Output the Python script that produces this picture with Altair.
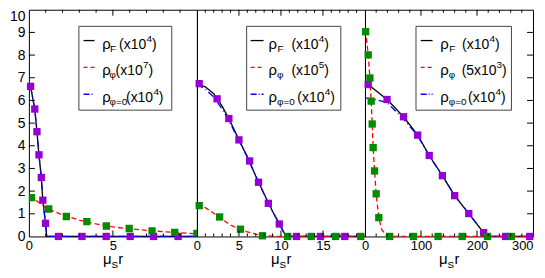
import altair as alt
import pandas as pd

# ---------------- data ----------------
# Panel 1 : mu_S r in [0, 10]
p1_rhoF_x = [0.1, 0.35, 0.48, 0.6, 0.74, 0.83, 0.99, 1.06, 10.0]
p1_rhoF_y = [6.62, 5.62, 4.62, 3.6, 2.6, 1.6, 0.58, 0.0, 0.0]
p1_rho0_x = [0.1, 0.35, 0.48, 0.6, 0.74, 0.83, 0.99, 1.06, 10.0]
p1_rho0_y = [6.62, 5.62, 4.62, 3.6, 2.6, 1.6, 0.58, 0.0, 0.0]
p1_rhophi_x = [0.0, 0.5, 1.0, 1.5, 2.0, 3.0, 4.0, 5.0, 6.0, 7.0, 8.0, 9.0, 10.0]
p1_rhophi_y = [1.75, 1.55, 1.28, 1.1, 0.95, 0.72, 0.55, 0.42, 0.34, 0.27, 0.21, 0.16, 0.12]
p1_sqF_x = [0.1, 0.35, 0.48, 0.6, 0.74, 0.83, 0.99, 1.76, 3.16, 4.6, 6.03, 7.42, 8.88]
p1_sqF_y = [6.62, 5.62, 4.62, 3.6, 2.6, 1.6, 0.58, 0, 0, 0, 0, 0, 0]
p1_sqphi_x = [0.16, 1.18, 2.23, 3.45, 4.61, 5.97, 7.33, 8.68, 10.0]
p1_sqphi_y = [1.71, 1.21, 0.88, 0.65, 0.46, 0.35, 0.25, 0.18, 0.13]

# Panel 2 : mu_S r in [0, 20]
p2_rhoF_x = [0, 1, 2, 3, 4, 5, 6, 7, 8, 9, 10, 10.6, 20]
p2_rhoF_y = [6.72, 6.6, 6.3, 5.75, 5.05, 4.26, 3.52, 2.67, 1.87, 1.11, 0.42, 0, 0]
p2_rho0_x = [0, 1, 2, 3, 4, 5, 6, 7, 8, 9, 10, 10.6, 20]
p2_rho0_y = [6.72, 6.5, 6.15, 5.62, 4.97, 4.22, 3.5, 2.66, 1.86, 1.1, 0.42, 0, 0]
p2_rhophi_x = [0, 1, 2, 3, 4, 5, 6, 7, 8, 9, 10, 20]
p2_rhophi_y = [1.4, 1.27, 1.02, 0.75, 0.5, 0.33, 0.2, 0.1, 0.04, 0.01, 0, 0]
p2_sqF_x = [0.27, 2.4, 3.8, 5.0, 6.27, 7.33, 8.5, 9.8, 11.85, 14.7, 17.6]
p2_sqF_y = [6.74, 6.07, 5.2, 4.26, 3.33, 2.39, 1.46, 0.55, 0, 0, 0]
p2_sqphi_x = [0.27, 2.7, 5.18, 7.8, 10.8, 13.6, 16.5, 19.5]
p2_sqphi_y = [1.36, 0.86, 0.32, 0.03, 0, 0, 0, 0]

# Panel 3 : mu_S r in [0, 300]
p3_rhoF_x = [5.8, 39.4, 68.8, 94.1, 114.7, 138.2, 160.1, 185.3, 211.8, 217, 300]
p3_rhoF_y = [6.7, 6.04, 5.28, 4.47, 3.57, 2.68, 1.8, 1.01, 0.17, 0, 0]
p3_rho0_x = [0, 20, 39.4, 68.8, 94.1, 114.7, 138.2, 160.1, 185.3, 211.8, 217, 300]
p3_rho0_y = [6.11, 6.03, 5.9, 5.18, 4.44, 3.56, 2.67, 1.8, 1.01, 0.17, 0, 0]
p3_rhophi_x = [0, 1.2, 5.8, 8.8, 11.1, 12.9, 14.6, 17.1, 20, 24.7, 30, 38, 50, 300]
p3_rhophi_y = [9.1, 9.03, 8.01, 6.99, 5.97, 4.96, 3.92, 2.89, 1.88, 0.83, 0.3, 0.05, 0, 0]
p3_sqF_x = [5.8, 39.4, 68.8, 94.1, 114.7, 138.2, 160.1, 185.3, 211.8, 251.1, 294.2]
p3_sqF_y = [6.7, 6.04, 5.28, 4.47, 3.57, 2.68, 1.8, 1.01, 0.17, 0, 0]
p3_sqphi_x = [1.2, 5.8, 8.8, 11.1, 12.9, 14.6, 17.1, 20, 24.7, 44.1, 86.5, 130.6, 173.5, 218.8, 261.2]
p3_sqphi_y = [9.03, 8.01, 6.99, 5.97, 4.96, 3.92, 2.89, 1.88, 0.83, 0, 0, 0, 0, 0, 0]

# axis ranges and ticks
x_max = [10, 20, 300]
x_labels = [[0, 5], [0, 5, 10, 15], [0, 100, 200, 300]]
x_major = [[5], [5, 10, 15], [100, 200]]
x_minor = [[1, 2, 3, 4, 6, 7, 8, 9],
           [1, 2, 3, 4, 6, 7, 8, 9, 11, 12, 13, 14, 16, 17, 18, 19],
           [20, 40, 60, 80, 120, 140, 160, 180, 220, 240, 260, 280]]
y_labels = [0, 1, 2, 3, 4, 5, 6, 7, 8, 9, 10]
y_major = [1, 2, 3, 4, 5, 6, 7, 8, 9]

# legend texts
leg_sub = ["F", "φ", "φ=0"]
leg_main = [["(x10", "(x10", "(x10"], ["(x10", "(x10", "(x10"], ["(x10", "(5x10", "(x10"]]
leg_sup = [["4", "7", "4"], ["4", "5", "4"], ["4", "3", "4"]]

# ---------------- styling / layout ----------------
W, H = 169, 228
FONT = "Liberation Sans"
LFONT = "Liberation Sans"
PURPLE = "#9400d3"
GREEN = "#008b00"
one = pd.DataFrame({"k": [0]})

# legend layout per panel: x0, box x1, box x2, sample x1, x2, row offsets (sub, main, sup, close)
leg_layout = [
    (73.7, 50.3, 143.7, 55, 66, [(8, 17, 44.5, 50), (7.5, 13.5, 41, 46.5), (7.5, 24, 51.5, 57)]),
    (72.0, 50.0, 144.7, 54, 67, [(9, 23, 50.5, 56), (8.5, 23, 50.5, 56), (8.5, 29, 56.5, 62)]),
    (75.7, 51.3, 147.3, 56, 68, [(9, 22, 49.5, 55), (8.5, 21.5, 56.5, 62), (8.5, 28, 55.5, 61)]),
]
row_base = [39, 66, 93]
row_line = [31, 58, 85]


def txt(s, x, y, size, font=LFONT):
    return alt.Chart(one).mark_text(
        text=s, align="left", baseline="alphabetic", fontSize=size, font=font, color="black"
    ).encode(x=alt.value(x), y=alt.value(y))


def panel(i, rhoF, rho0, rhophi, sqF, sqphi):
    xaxis_kw = dict(values=x_labels[i], ticks=False, domain=False, grid=False, title=None,
                    labelFontSize=13, labelFont=FONT, labelColor="black", labelPadding=3,
                    labelOverlap=False, labelFlush=False)
    if i == 2:
        xaxis_kw["labelAlign"] = {"condition": {"test": "datum.value == 300", "value": "right"},
                                  "value": "center"}
    xe = alt.X("x:Q", scale=alt.Scale(domain=[0, x_max[i]], nice=False, zero=False),
               axis=alt.Axis(**xaxis_kw))
    if i == 0:
        yaxis = alt.Axis(values=y_labels, ticks=False, domain=False, grid=False, title=None,
                         labelFontSize=14, labelFont=FONT, labelColor="black", labelPadding=4,
                         labelOverlap=False,
                         labelBaseline={"condition": {"test": "datum.value == 10", "value": "top"},
                                        "value": "middle"})
    else:
        yaxis = None
    ye = alt.Y("y:Q", scale=alt.Scale(domain=[0, 10], nice=False), axis=yaxis)

    def df(xs, ys):
        return pd.DataFrame({"x": xs, "y": ys})

    layers = [
        alt.Chart(df(*rhoF)).mark_line(color="black", strokeWidth=1.3).encode(x=xe, y=ye),
        alt.Chart(df(*rho0)).mark_line(color="#0000ff", strokeWidth=1.3,
                                       strokeDash=[7, 3, 1, 3]).encode(x=xe, y=ye),
        alt.Chart(df(*rhophi)).mark_line(color="#ff0000", strokeWidth=1.3,
                                         strokeDash=[5, 3]).encode(x=xe, y=ye),
        alt.Chart(df(*sqF)).mark_square(size=54, color=PURPLE, opacity=1).encode(x=xe, y=ye),
        alt.Chart(df(*sqphi)).mark_square(size=54, color=GREEN, opacity=1,
                                          clip=(i == 0)).encode(x=xe, y=ye),
    ]
    # inward ticks, top and bottom
    for vals, ln in ((x_major[i], 6), (x_minor[i], 3)):
        d = pd.DataFrame({"x": vals})
        b = alt.Chart(d).mark_rule(color="black", strokeWidth=1)
        layers.append(b.encode(x=xe, y=alt.value(H), y2=alt.value(H - ln)))
        layers.append(b.encode(x=xe, y=alt.value(0), y2=alt.value(ln)))
    # inward y ticks (left on first panel, right on last panel)
    if i in (0, 2):
        d = pd.DataFrame({"y": y_major})
        b = alt.Chart(d).mark_rule(color="black", strokeWidth=1)
        if i == 0:
            layers.append(b.encode(y=ye, x=alt.value(0), x2=alt.value(6)))
        else:
            layers.append(b.encode(y=ye, x=alt.value(W), x2=alt.value(W - 6)))

    # legend
    x0, bx1, bx2, s1, s2, offs = leg_layout[i]
    layers.append(alt.Chart(one).mark_rect(fill="white", stroke="#444444", strokeWidth=1).encode(
        x=alt.value(bx1), x2=alt.value(bx2), y=alt.value(16.7), y2=alt.value(101)))
    samples = [("black", None), ("#ff0000", [4, 3]), ("#0000ff", [6, 2, 1, 2])]
    for r, (col, dash) in enumerate(samples):
        kw = dict(color=col, strokeWidth=1.3)
        if dash:
            kw["strokeDash"] = dash
        layers.append(alt.Chart(one).mark_rule(**kw).encode(
            x=alt.value(s1), x2=alt.value(s2), y=alt.value(row_line[r])))
        sub, mn, sp, cl = offs[r]
        yb = row_base[r]
        layers.append(txt("ρ", x0, yb, 15))
        layers.append(txt(leg_sub[r], x0 + sub, yb + 3, 10))
        layers.append(txt(leg_main[i][r], x0 + mn, yb, 14))
        layers.append(txt(leg_sup[i][r], x0 + sp, yb - 7, 10))
        layers.append(txt(")", x0 + cl, yb, 14))

    # axis title mu_S r
    c = W / 2
    layers.append(txt("μ", c - 10, H + 28, 15, FONT))
    layers.append(txt("S", c - 1.5, H + 32, 10, FONT))
    layers.append(txt("r", c + 5.5, H + 28, 15, FONT))

    return alt.layer(*layers).properties(width=W, height=H)


p1 = panel(0, (p1_rhoF_x, p1_rhoF_y), (p1_rho0_x, p1_rho0_y), (p1_rhophi_x, p1_rhophi_y),
           (p1_sqF_x, p1_sqF_y), (p1_sqphi_x, p1_sqphi_y))
p2 = panel(1, (p2_rhoF_x, p2_rhoF_y), (p2_rho0_x, p2_rho0_y), (p2_rhophi_x, p2_rhophi_y),
           (p2_sqF_x, p2_sqF_y), (p2_sqphi_x, p2_sqphi_y))
p3 = panel(2, (p3_rhoF_x, p3_rhoF_y), (p3_rho0_x, p3_rho0_y), (p3_rhophi_x, p3_rhophi_y),
           (p3_sqF_x, p3_sqF_y), (p3_sqphi_x, p3_sqphi_y))

chart = alt.hconcat(p1, p2, p3, spacing=0, bounds="flush").properties(
    padding=0, background="white"
).configure_view(stroke="black", strokeWidth=1)

chart.save("out.html", embed_options={"renderer": "svg", "actions": False})
